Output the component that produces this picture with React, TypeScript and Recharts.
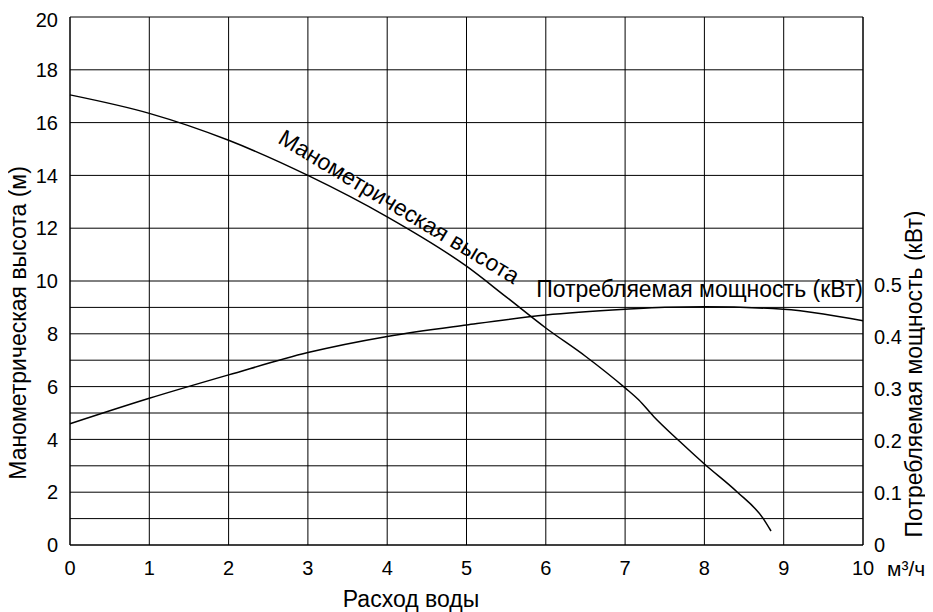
import { LineChart, Line, XAxis, YAxis, CartesianGrid, ReferenceLine } from 'recharts'

// расход воды, м³/ч -> манометрическая высота, м
const headFlow = [0, 1, 2, 3, 4, 5, 5.5, 6, 6.5, 7, 7.17, 7.36, 7.69, 8, 8.41, 8.74, 8.84]
const headValues = [17.05, 16.35, 15.33, 14.0, 12.43, 10.56, 9.4, 8.22, 7.15, 5.95, 5.5, 4.87, 3.92, 3.07, 2.02, 1.01, 0.53]

// расход воды, м³/ч -> потребляемая мощность, кВт
const powerFlow = [0, 1, 2, 3, 4, 5, 6, 7, 7.5, 8, 9, 9.5, 10]
const powerValues = [0.233, 0.282, 0.327, 0.37, 0.401, 0.423, 0.442, 0.453, 0.457, 0.458, 0.453, 0.444, 0.431]

const xTicks = [0, 1, 2, 3, 4, 5, 6, 7, 8, 9, 10]
const leftTicks = [0, 2, 4, 6, 8, 10, 12, 14, 16, 18, 20]
const rightTicks = [0, 0.1, 0.2, 0.3, 0.4, 0.5]
const extraLines = [1, 3, 5, 7, 9]

const headData = headFlow.map((x, i) => ({ x, y: headValues[i] }))
const powerData = powerFlow.map((x, i) => ({ x, y: powerValues[i] }))

const font = '"Liberation Sans", Arial, sans-serif'
const tick = { fill: '#000', fontSize: 20, fontFamily: font }

export default function App() {
  return (
    <div style={{ position: 'relative', width: 925, height: 604, fontFamily: font, color: '#000' }}>
      <LineChart width={925} height={604} margin={{ top: 9, right: 0, bottom: 0, left: 0 }}>
        <CartesianGrid stroke="#000" yAxisId="left" />
        <XAxis
          dataKey="x"
          type="number"
          domain={[0, 10]}
          ticks={xTicks}
          tickLine={false}
          tickMargin={10}
          height={67}
          axisLine={{ stroke: '#000' }}
          tick={tick}
          allowDuplicatedCategory={false}
        />
        <YAxis
          yAxisId="left"
          domain={[0, 20]}
          ticks={leftTicks}
          width={62}
          tickLine={false}
          tickMargin={6}
          axisLine={{ stroke: '#000' }}
          tick={tick}
        />
        <YAxis
          yAxisId="right"
          orientation="right"
          domain={[0, 1.015]}
          ticks={rightTicks}
          width={70}
          tickLine={false}
          tickMargin={5}
          axisLine={{ stroke: '#000' }}
          tick={tick}
        />
        {extraLines.map((v) => (
          <ReferenceLine key={v} yAxisId="left" y={v} stroke="#000" />
        ))}
        <Line
          yAxisId="left"
          data={headData}
          dataKey="y"
          type="monotone"
          stroke="#000"
          strokeWidth={1.5}
          dot={false}
          isAnimationActive={false}
        />
        <Line
          yAxisId="right"
          data={powerData}
          dataKey="y"
          type="monotone"
          stroke="#000"
          strokeWidth={1.5}
          dot={false}
          isAnimationActive={false}
        />
      </LineChart>

      <div
        style={{
          position: 'absolute', left: 391, top: 199, fontSize: 23, lineHeight: 1, whiteSpace: 'nowrap',
          transform: 'translate(-50%, -50%) rotate(31deg)',
        }}
      >
        Манометрическая высота
      </div>
      <div
        style={{
          position: 'absolute', right: 925 - 855, top: 270, fontSize: 23, lineHeight: 1, whiteSpace: 'nowrap',
        }}
      >
        Потребляемая мощность (кВт)
      </div>
      <div style={{ position: 'absolute', left: 879, top: 550, fontSize: 21, lineHeight: 1, whiteSpace: 'nowrap' }}>
        м³/ч
      </div>
      <div
        style={{
          position: 'absolute', left: 403, top: 580, fontSize: 23, lineHeight: 1, whiteSpace: 'nowrap',
          transform: 'translateX(-50%)',
        }}
      >
        Расход воды
      </div>
      <div
        style={{
          position: 'absolute', left: 10, top: 315, fontSize: 23, lineHeight: 1, whiteSpace: 'nowrap',
          transform: 'translate(-50%, -50%) rotate(-90deg)',
        }}
      >
        Манометрическая высота (м)
      </div>
      <div
        style={{
          position: 'absolute', left: 906, top: 366, fontSize: 23, lineHeight: 1, whiteSpace: 'nowrap',
          transform: 'translate(-50%, -50%) rotate(-90deg)',
        }}
      >
        Потребляемая мощность (кВт)
      </div>
    </div>
  )
}
